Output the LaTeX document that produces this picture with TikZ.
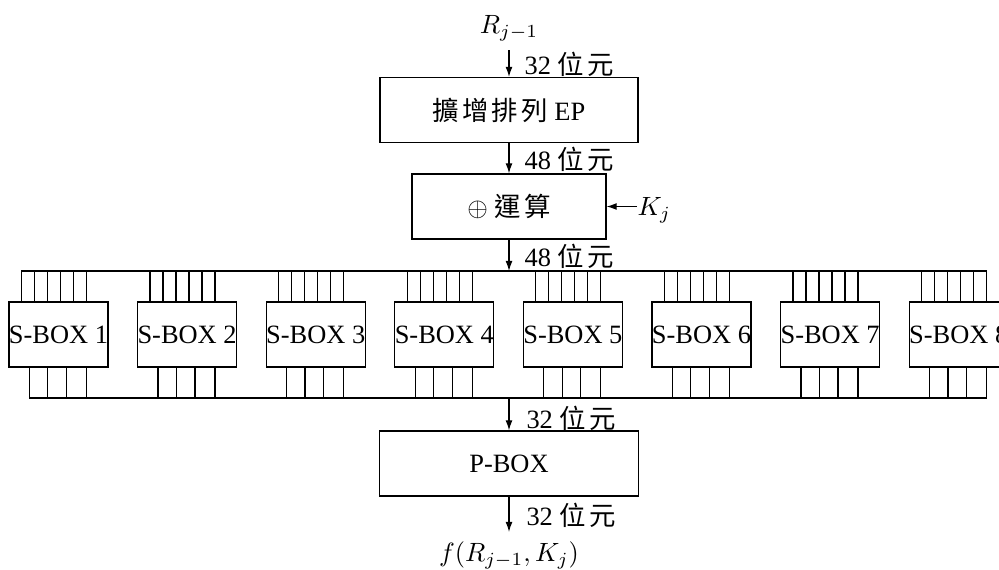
\documentclass[tikz,border=0pt]{standalone}
\usepackage{fontspec}
\setmainfont{Liberation Serif}
\newfontfamily\cjk{Noto Sans CJK TC}
\usetikzlibrary{arrows.meta}
\newcommand\bitlbl[1]{#1 {\cjk 位\hspace{1.2pt}元}}
\tikzset{
  blk/.style={draw, line width=0.45pt, inner sep=0pt, minimum height=24.6pt},
  arr/.style={-{Latex[length=3.8pt,width=2.6pt]}, line width=0.45pt},
  lbl/.style={anchor=west, inner sep=0pt},
  wire/.style={line width=0.45pt}
}
\begin{document}
\begin{tikzpicture}[x=0.3785pt,y=-0.3785pt,font=\fontsize{10}{12}\selectfont]
\useasboundingbox (0,0) rectangle (999,569);
\clip (0,0) rectangle (999,569);
% top input
\node (rin) at (509,28) {$R_{j-1}$};
\node[blk, minimum width=97.7pt] (ep) at (509,110) {{\cjk 擴\hspace{1.2pt}增\hspace{1.2pt}排\hspace{1.2pt}列}\ EP};
\draw[arr] (rin.south) -- (ep.north);
\node[lbl] at (524,64) {\bitlbl{32}};
% xor
\node[blk, minimum width=73.4pt] (xor) at (509,206.5) {$\oplus$\ {\cjk 運\hspace{1.2pt}算}};
\draw[arr] (ep.south) -- (xor.north);
\node[lbl] at (524,159) {\bitlbl{48}};
\node[lbl] (kj) at (637,210) {$K_j$};
\draw[arr] (xor.east -| kj.west) -- (xor.east);
% bus
\coordinate (bt) at (509,271);
\coordinate (bb) at (509,398);
\draw[arr] (xor.south) -- (bt);
\node[lbl] at (524,256) {\bitlbl{48}};
\foreach \i in {1,...,8} {
  \node[blk, minimum width=36.7pt] (s\i) at ({58.5+128.6*(\i-1)},334.5) {S-BOX \i};
}
\foreach \i in {1,...,8} {
  \foreach \d in {13,26,39,52,65,78}
    \draw[wire] ([xshift=\d*0.3785pt]s\i.north west) -- ([xshift=\d*0.3785pt]s\i.north west |- bt);
  \foreach \d in {21,39.5,58,78}
    \draw[wire] ([xshift=\d*0.3785pt]s\i.south west) -- ([xshift=\d*0.3785pt]s\i.south west |- bb);
}
\draw[wire] ([xshift=13*0.3785pt]s1.north west |- bt) -- ([xshift=78*0.3785pt]s8.north west |- bt);
\draw[wire] ([xshift=21*0.3785pt]s1.south west |- bb) -- ([xshift=78*0.3785pt]s8.south west |- bb);
% p-box
\node[blk, minimum width=98pt] (pbox) at (509,463.5) {P-BOX};
\draw[arr] (bb) -- (pbox.north);
\node[lbl] at (526,418) {\bitlbl{32}};
\node (out) at (509,555) {$f(R_{j-1},K_j)$};
\draw[arr] (pbox.south) -- (out.north);
\node[lbl] at (526,515) {\bitlbl{32}};
\end{tikzpicture}
\end{document}
